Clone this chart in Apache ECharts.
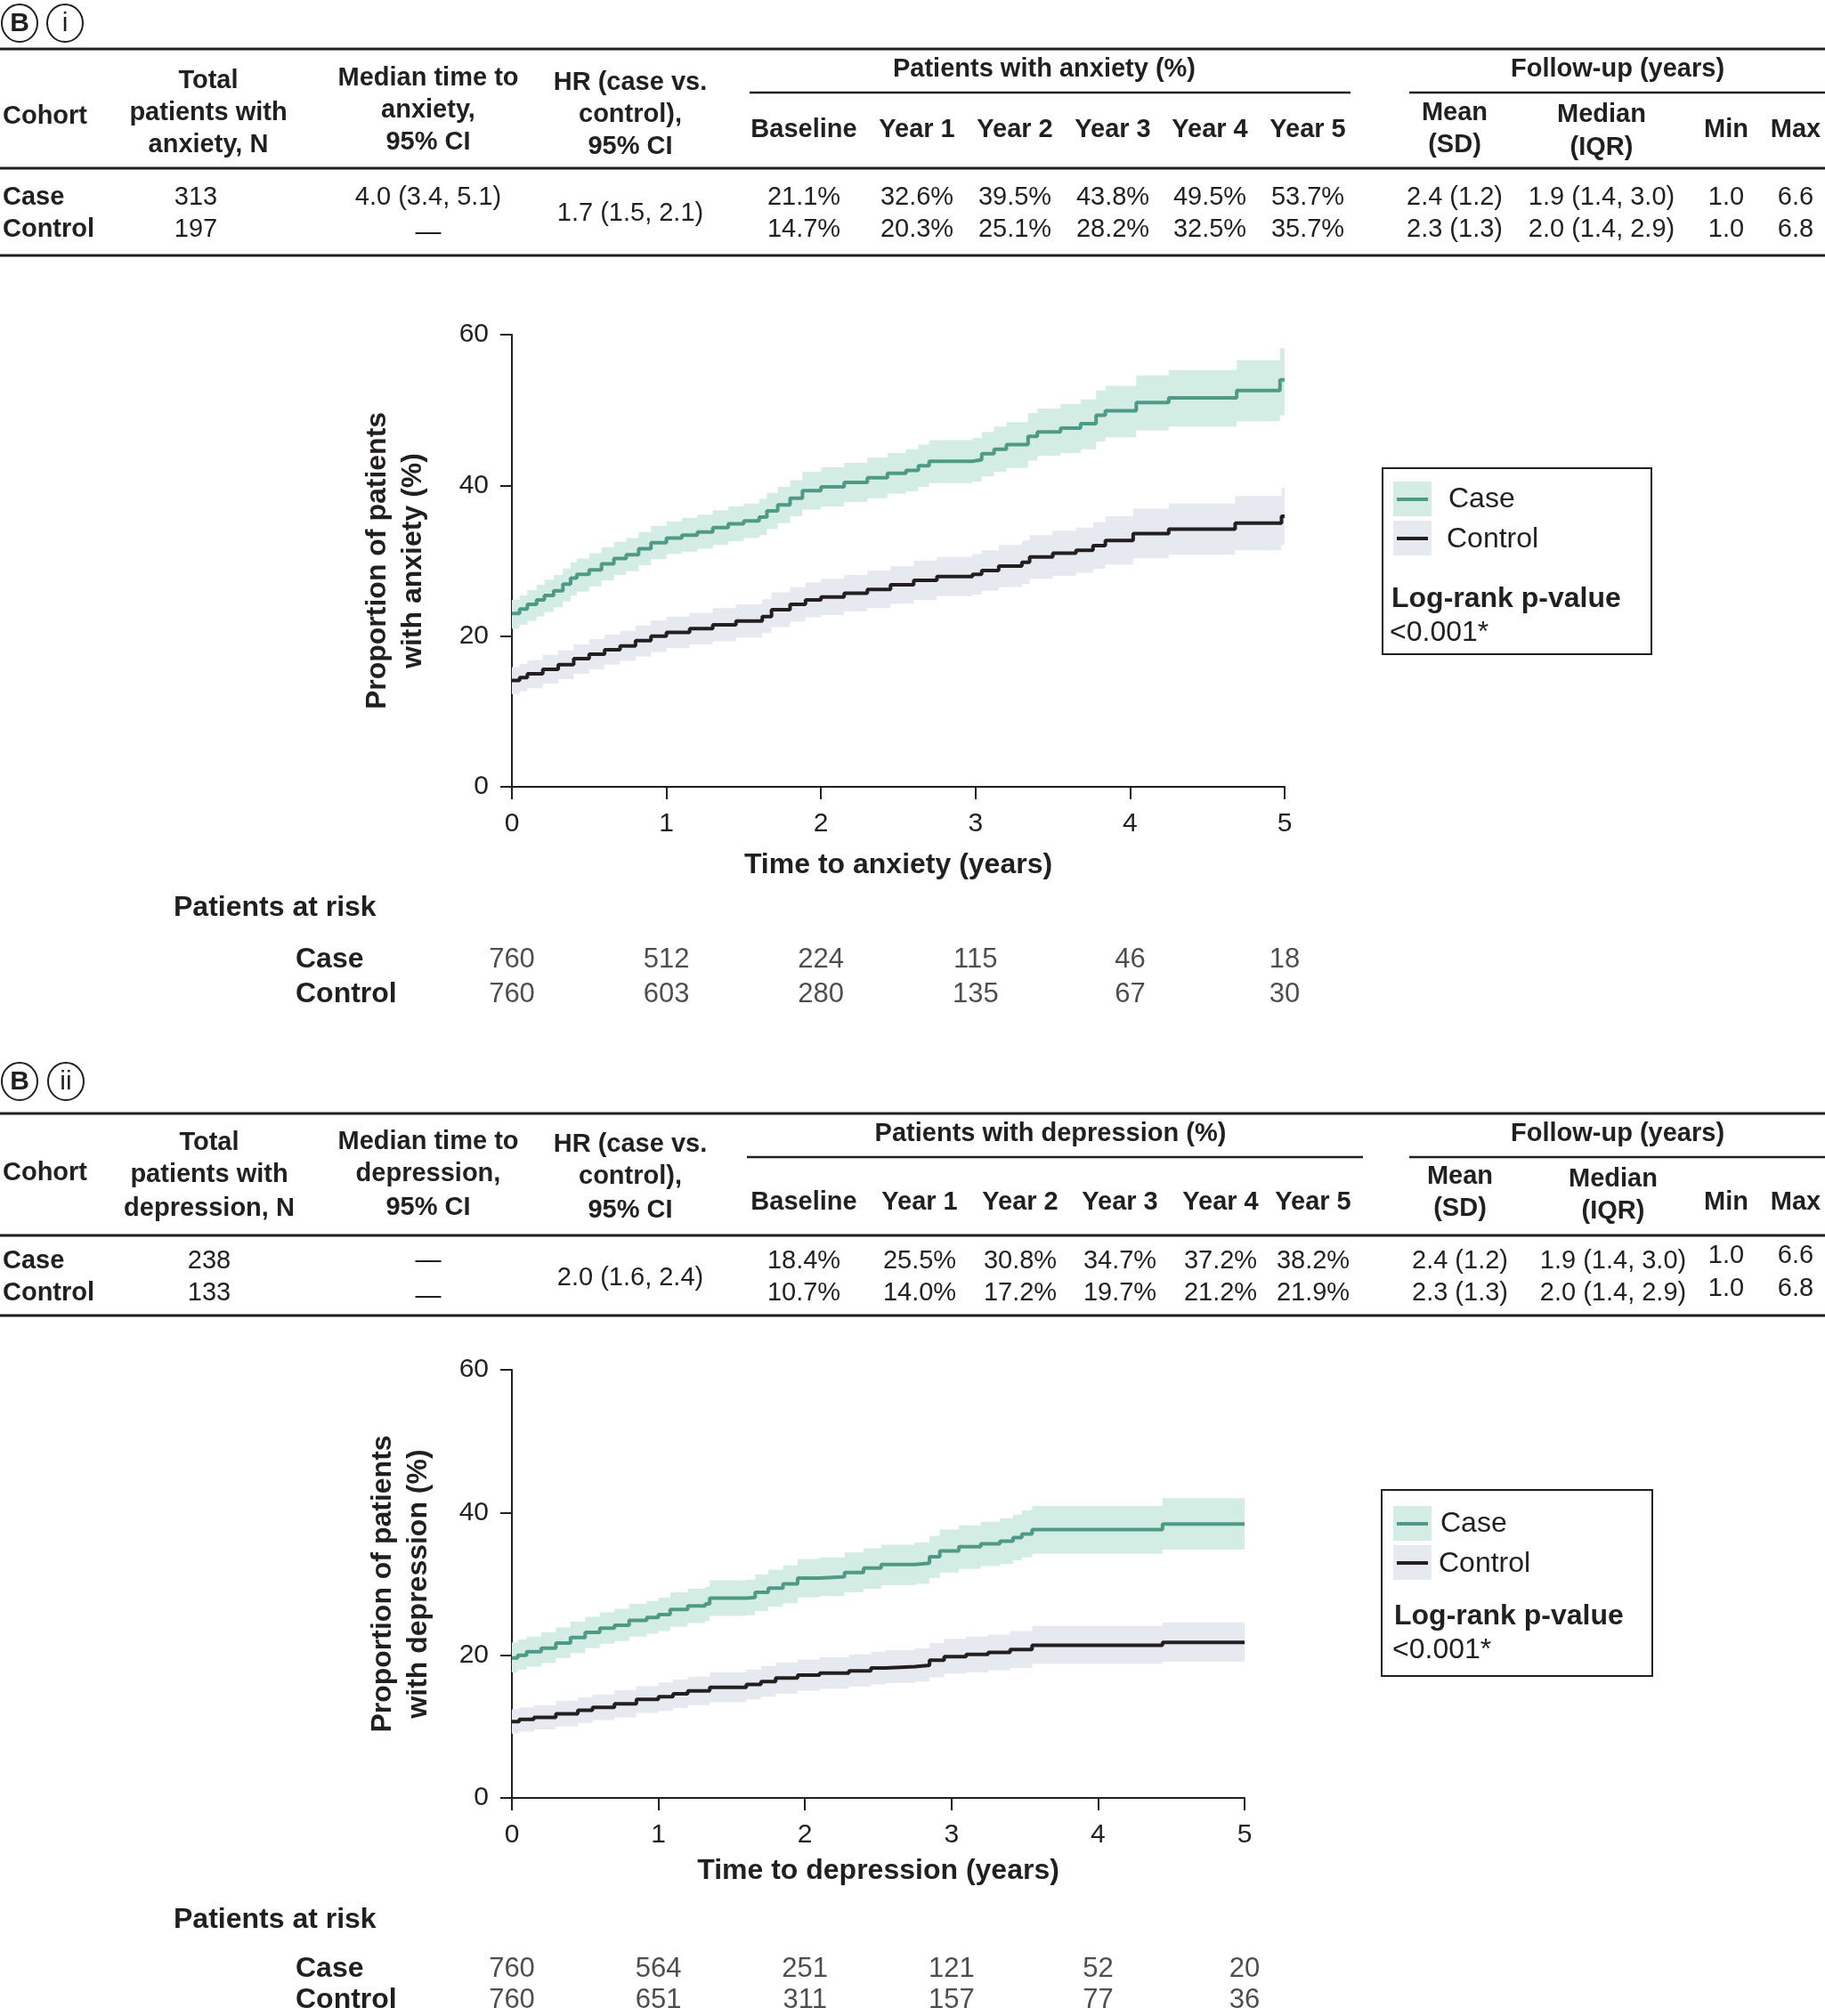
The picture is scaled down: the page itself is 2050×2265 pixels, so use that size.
<!DOCTYPE html>
<html>
<head>
<meta charset="utf-8">
<script src="https://cdn.jsdelivr.net/npm/echarts@6/dist/echarts.min.js"></script>
<style>
html, body { margin: 0; padding: 0; background: #fff; }
#main { width: 2050px; height: 2265px; }
</style>
</head>
<body>
<div id="main"></div>
<script>
const FONT = '"Liberation Sans", Arial, Helvetica, sans-serif';
const INK = '#231f20';
const TEAL = '#4e9a86';
const TEAL_BAND = '#d3ede4';
const GREY_BAND = '#e7e9f1';

// ---- tables
const yearHeads = ['Baseline', 'Year 1', 'Year 2', 'Year 3', 'Year 4', 'Year 5'];
const anxCasePct = ['21.1%', '32.6%', '39.5%', '43.8%', '49.5%', '53.7%'];
const anxCtrlPct = ['14.7%', '20.3%', '25.1%', '28.2%', '32.5%', '35.7%'];
const anxN = ['313', '197'];
const anxMedian = ['4.0 (3.4, 5.1)', '—'];
const anxHR = '1.7 (1.5, 2.1)';
const depCasePct = ['18.4%', '25.5%', '30.8%', '34.7%', '37.2%', '38.2%'];
const depCtrlPct = ['10.7%', '14.0%', '17.2%', '19.7%', '21.2%', '21.9%'];
const depN = ['238', '133'];
const depMedian = ['—', '—'];
const depHR = '2.0 (1.6, 2.4)';
const followCase = ['2.4 (1.2)', '1.9 (1.4, 3.0)', '1.0', '6.6'];
const followCtrl = ['2.3 (1.3)', '2.0 (1.4, 2.9)', '1.0', '6.8'];

// ---- curves: time (years), estimate, lower CI, upper CI (%)
const anxCaseT  = [0, 0.05, 0.10, 0.16, 0.21, 0.27, 0.33, 0.38, 0.42, 0.50, 0.58, 0.66, 0.74, 0.82, 0.90, 1.00, 1.10, 1.20, 1.30, 1.40, 1.50, 1.60, 1.65, 1.72, 1.80, 1.88, 2.00, 2.15, 2.30, 2.43, 2.55, 2.63, 2.70, 2.98, 3.04, 3.12, 3.20, 3.34, 3.40, 3.55, 3.68, 3.78, 3.84, 4.04, 4.25, 4.69, 4.97, 5.00];
const anxCaseV  = [23.0, 23.6, 24.2, 24.8, 25.4, 26.0, 26.9, 27.7, 28.2, 28.8, 29.6, 30.3, 30.8, 31.6, 32.4, 33.0, 33.4, 33.8, 34.4, 34.9, 35.3, 35.8, 36.6, 37.4, 38.3, 39.3, 39.8, 40.4, 41.0, 41.6, 42.0, 42.6, 43.2, 43.4, 44.2, 44.8, 45.4, 46.5, 47.1, 47.6, 48.2, 49.3, 49.9, 51.0, 51.6, 52.6, 54.0, 54.0];
const anxCaseLo = [21.0, 21.5, 22.0, 22.6, 23.2, 23.8, 24.6, 25.4, 25.9, 26.6, 27.4, 28.1, 28.6, 29.4, 30.2, 30.9, 31.2, 31.6, 32.1, 32.6, 33.0, 33.4, 34.2, 35.0, 35.9, 36.8, 37.2, 37.8, 38.3, 38.9, 39.2, 39.8, 40.3, 40.5, 41.2, 41.8, 42.3, 43.3, 43.9, 44.3, 44.8, 45.8, 46.4, 47.3, 47.8, 48.5, 49.3, 49.3];
const anxCaseHi = [24.8, 25.4, 26.1, 26.8, 27.5, 28.1, 29.0, 29.8, 30.3, 31.0, 31.8, 32.5, 33.0, 33.8, 34.6, 35.2, 35.7, 36.1, 36.7, 37.2, 37.6, 38.2, 39.0, 39.8, 40.7, 41.8, 42.4, 43.0, 43.7, 44.3, 44.8, 45.4, 46.0, 46.3, 47.1, 47.8, 48.4, 49.6, 50.2, 50.8, 51.4, 52.6, 53.2, 54.6, 55.3, 56.6, 58.2, 58.2];

const anxCtrlT  = [0, 0.05, 0.10, 0.20, 0.30, 0.40, 0.50, 0.60, 0.70, 0.80, 0.90, 1.00, 1.15, 1.30, 1.45, 1.62, 1.68, 1.80, 1.90, 2.00, 2.15, 2.30, 2.45, 2.60, 2.75, 2.98, 3.04, 3.15, 3.30, 3.35, 3.50, 3.65, 3.76, 3.84, 4.02, 4.25, 4.68, 4.98, 5.00];
const anxCtrlV  = [14.1, 14.5, 15.0, 15.6, 16.2, 17.0, 17.6, 18.2, 18.7, 19.4, 20.0, 20.5, 21.0, 21.5, 22.0, 22.6, 23.5, 24.2, 24.8, 25.2, 25.7, 26.2, 26.8, 27.4, 27.9, 28.2, 28.7, 29.3, 29.8, 30.5, 31.0, 31.4, 32.0, 32.7, 33.6, 34.2, 35.0, 35.9, 35.9];
const anxCtrlLo = [12.3, 12.7, 13.1, 13.7, 14.3, 15.0, 15.6, 16.2, 16.7, 17.3, 17.9, 18.4, 18.9, 19.3, 19.8, 20.4, 21.2, 21.9, 22.5, 22.8, 23.3, 23.7, 24.3, 24.8, 25.3, 25.5, 26.0, 26.5, 26.9, 27.6, 28.0, 28.4, 28.9, 29.5, 30.3, 30.8, 31.4, 32.1, 32.1];
const anxCtrlHi = [15.9, 16.3, 16.8, 17.5, 18.1, 18.9, 19.6, 20.2, 20.7, 21.4, 22.1, 22.6, 23.1, 23.7, 24.2, 24.9, 25.8, 26.5, 27.1, 27.6, 28.1, 28.7, 29.3, 30.0, 30.5, 30.9, 31.4, 32.1, 32.7, 33.4, 34.0, 34.4, 35.1, 35.9, 36.9, 37.6, 38.6, 39.7, 39.7];

const depCaseT  = [0, 0.04, 0.10, 0.20, 0.30, 0.40, 0.50, 0.60, 0.70, 0.80, 0.92, 1.00, 1.08, 1.20, 1.32, 1.35, 1.60, 1.66, 1.75, 1.85, 1.95, 2.10, 2.27, 2.40, 2.52, 2.75, 2.85, 2.92, 3.05, 3.20, 3.33, 3.42, 3.48, 3.55, 4.44, 5.00];
const depCaseV  = [19.6, 20.0, 20.5, 21.0, 21.7, 22.5, 23.2, 23.8, 24.2, 24.9, 25.3, 25.7, 26.4, 26.9, 27.2, 28.0, 28.1, 28.8, 29.4, 30.0, 30.8, 31.0, 31.6, 32.2, 32.7, 32.9, 33.8, 34.6, 35.2, 35.6, 36.0, 36.5, 37.0, 37.6, 38.4, 38.4];
const depCaseLo = [17.6, 18.0, 18.4, 18.9, 19.6, 20.3, 21.0, 21.6, 22.0, 22.6, 23.0, 23.4, 24.0, 24.5, 24.8, 25.5, 25.6, 26.2, 26.8, 27.3, 28.1, 28.3, 28.8, 29.3, 29.8, 30.0, 30.8, 31.6, 32.1, 32.5, 32.8, 33.3, 33.7, 34.2, 34.8, 34.8];
const depCaseHi = [21.8, 22.2, 22.6, 23.2, 23.9, 24.7, 25.4, 26.0, 26.5, 27.2, 27.6, 28.1, 28.8, 29.3, 29.6, 30.5, 30.6, 31.3, 32.0, 32.6, 33.5, 33.7, 34.4, 35.0, 35.5, 35.8, 36.7, 37.6, 38.2, 38.7, 39.2, 39.7, 40.3, 40.9, 42.0, 42.0];

const depCtrlT  = [0, 0.05, 0.15, 0.30, 0.45, 0.55, 0.70, 0.85, 1.00, 1.10, 1.20, 1.35, 1.60, 1.70, 1.80, 1.95, 2.10, 2.30, 2.45, 2.55, 2.75, 2.85, 2.95, 3.10, 3.25, 3.40, 3.55, 4.44, 5.00];
const depCtrlV  = [10.7, 11.0, 11.3, 11.8, 12.3, 12.7, 13.2, 13.8, 14.2, 14.6, 15.0, 15.5, 15.9, 16.3, 16.8, 17.2, 17.5, 17.8, 18.2, 18.4, 18.6, 19.3, 19.8, 20.1, 20.4, 20.8, 21.4, 21.8, 21.8];
const depCtrlLo = [9.0, 9.3, 9.6, 10.0, 10.5, 10.9, 11.3, 11.9, 12.2, 12.6, 13.0, 13.4, 13.8, 14.2, 14.6, 15.0, 15.3, 15.6, 15.9, 16.1, 16.3, 16.9, 17.4, 17.6, 17.9, 18.2, 18.8, 19.1, 19.1];
const depCtrlHi = [12.4, 12.7, 13.0, 13.6, 14.1, 14.5, 15.1, 15.7, 16.2, 16.6, 17.0, 17.6, 18.0, 18.5, 19.0, 19.4, 19.7, 20.1, 20.5, 20.7, 21.0, 21.7, 22.3, 22.6, 22.9, 23.4, 24.1, 24.6, 24.6];

// ---- patients at risk
const riskTimes = [0, 1, 2, 3, 4, 5];
const riskGroups = ['Case', 'Control'];
const anxRiskCase = [760, 512, 224, 115, 46, 18];
const anxRiskCtrl = [760, 603, 280, 135, 67, 30];
const depRiskCase = [760, 564, 251, 121, 52, 20];
const depRiskCtrl = [760, 651, 311, 157, 77, 36];

const chart = echarts.init(document.getElementById('main'));

// graphic helpers
const g = [];
function txt(x, y, s, size, bold, align) {
    g.push({
        type: 'text', x: x, y: y, silent: true,
        style: {
            text: s, fill: INK, fontSize: size, fontFamily: FONT,
            fontWeight: bold ? 'bold' : 'normal',
            align: align || 'center', verticalAlign: 'middle'
        }
    });
}
function rule(x1, y1, x2, y2, w) {
    g.push({ type: 'line', silent: true, shape: { x1: x1, y1: y1, x2: x2, y2: y2 }, style: { stroke: INK, lineWidth: w } });
}
function circ(cx, cy, s, bold) {
    g.push({ type: 'ellipse', silent: true, shape: { cx: cx, cy: cy, rx: 20, ry: 21 }, style: { fill: '#fff', stroke: INK, lineWidth: 2 } });
    txt(cx, cy + 1, s, 30, bold);
}

function table(p) {
    circ(22, p.circY, 'B', true);
    circ(p.tagX, p.circY, p.tag, false);
    rule(0, p.top, 2050, p.top, 3);
    txt(p.grpMid, p.grpY, p.grpTitle, 29, true);
    rule(p.grpL[0], p.grpLine, p.grpL[1], p.grpLine, 2.5);
    txt(1817, p.grpY, 'Follow-up (years)', 29, true);
    rule(1583, p.grpLine, 2050, p.grpLine, 2.5);
    txt(3, p.hCohort, 'Cohort', 29, true, 'left');
    ['Total', 'patients with', p.word + ', N'].forEach((s, i) => txt(p.totX, p.h3[i], s, 29, true));
    ['Median time to', p.word + ',', '95% CI'].forEach((s, i) => txt(481, p.hMed[i], s, 29, true));
    ['HR (case vs.', 'control),', '95% CI'].forEach((s, i) => txt(708, p.h3[i] + 2, s, 29, true));
    yearHeads.forEach((s, i) => txt(p.yearX[i], p.hYear, s, 29, true));
    ['Mean', '(SD)'].forEach((s, i) => txt(p.meanX, p.hMean[i], s, 29, true));
    ['Median', '(IQR)'].forEach((s, i) => txt(p.iqrX, p.hIqr[i], s, 29, true));
    txt(1939, p.hYear, 'Min', 29, true);
    txt(2017, p.hYear, 'Max', 29, true);
    rule(0, p.mid, 2050, p.mid, 3);
    txt(3, p.rowC, 'Case', 29, true, 'left');
    txt(3, p.rowK, 'Control', 29, true, 'left');
    txt(p.nX, p.rowC, p.n[0], 29);
    txt(p.nX, p.rowK, p.n[1], 29);
    txt(481, p.rowC, p.median[0], 29);
    txt(481, p.rowK + 4, p.median[1], 29);
    txt(708, p.hrY, p.hr, 29);
    p.casePct.forEach((s, i) => txt(p.yearX[i], p.rowC, s, 29));
    p.ctrlPct.forEach((s, i) => txt(p.yearX[i], p.rowK, s, 29));
    const fx = [p.meanX, p.iqrX, 1939, 2017];
    followCase.forEach((s, i) => txt(fx[i], i > 1 ? p.mmC : p.rowC, s, 29));
    followCtrl.forEach((s, i) => txt(fx[i], i > 1 ? p.mmK : p.rowK, s, 29));
    rule(0, p.bot, 2050, p.bot, 3);
}

table({
    circY: 26, tag: 'i', tagX: 73, top: 55, grpY: 78, grpLine: 104, grpL: [842, 1517], grpMid: 1173,
    grpTitle: 'Patients with anxiety (%)', word: 'anxiety',
    h3: [91, 127, 163], hMed: [88, 124, 160], hCohort: 131, hYear: 146, hMean: [127, 163], hIqr: [129, 166],
    mid: 189, rowC: 222, rowK: 258, hrY: 240, mmC: 222, mmK: 258, bot: 287,
    yearX: [903, 1030, 1140, 1250, 1359, 1469], meanX: 1634, iqrX: 1799, nX: 220, totX: 234,
    n: anxN, median: anxMedian, hr: anxHR, casePct: anxCasePct, ctrlPct: anxCtrlPct
});
table({
    circY: 1215, tag: 'ii', tagX: 74, top: 1251, grpY: 1274, grpLine: 1300, grpL: [839, 1531], grpMid: 1180,
    grpTitle: 'Patients with depression (%)', word: 'depression',
    h3: [1284, 1320, 1358], hMed: [1283, 1319, 1357], hCohort: 1318, hYear: 1351, hMean: [1322, 1358], hIqr: [1325, 1361],
    mid: 1388, rowC: 1417, rowK: 1453, hrY: 1436, mmC: 1411, mmK: 1448, bot: 1478,
    yearX: [903, 1033, 1146, 1258, 1371, 1475], meanX: 1640, iqrX: 1812, nX: 235, totX: 235,
    n: depN, median: depMedian, hr: depHR, casePct: depCasePct, ctrlPct: depCtrlPct
});

function legendBox(b) {
    g.push({ type: 'rect', silent: true, shape: { x: b.x0, y: b.y0, width: b.x1 - b.x0, height: b.y1 - b.y0 }, style: { fill: 'none', stroke: INK, lineWidth: 2 } });
    [[b.sw1, TEAL_BAND, TEAL], [b.sw2, GREY_BAND, INK]].forEach(a => {
        g.push({ type: 'rect', silent: true, shape: { x: 1565, y: a[0], width: 43, height: 39 }, style: { fill: a[1] } });
        g.push({ type: 'line', silent: true, shape: { x1: 1569, y1: a[0] + 20, x2: 1604, y2: a[0] + 20 }, style: { stroke: a[2], lineWidth: 4 } });
    });
    txt(b.tx, b.sw1 + 20, 'Case', 32, false, 'left');
    txt(b.tx - 2, b.sw2 + 21, 'Control', 32, false, 'left');
    txt(b.lx, b.lrY, 'Log-rank p-value', 32, true, 'left');
    txt(b.lx - 2, b.pY, '<0.001*', 32, false, 'left');
}
legendBox({ x0: 1553, y0: 526, x1: 1855, y1: 735, sw1: 541, sw2: 585, tx: 1627, lx: 1563, lrY: 673, pY: 711 });
legendBox({ x0: 1552, y0: 1674, x1: 1856, y1: 1883, sw1: 1692, sw2: 1736, tx: 1618, lx: 1566, lrY: 1816, pY: 1854 });

txt(195, 1020, 'Patients at risk', 32, true, 'left');
txt(195, 2157, 'Patients at risk', 32, true, 'left');

// confidence band: one stepped polygon through the axis scales
function band(grid, t, lo, hi, color) {
    return {
        type: 'custom', xAxisIndex: grid, yAxisIndex: grid, silent: true, z: 1,
        data: t.map((x, i) => [x, lo[i], hi[i]]),
        encode: { x: 0, y: [1, 2] },
        renderItem: function (params, api) {
            if (params.dataIndex !== 0) return null;
            const top = [], bottom = [];
            for (let i = 0; i < t.length; i++) {
                const next = i < t.length - 1 ? t[i + 1] : t[i];
                top.push(api.coord([t[i], hi[i]]), api.coord([next, hi[i]]));
                bottom.push(api.coord([t[i], lo[i]]), api.coord([next, lo[i]]));
            }
            return {
                type: 'polygon',
                shape: { points: top.concat(bottom.reverse()) },
                style: { fill: color }
            };
        }
    };
}
function km(grid, t, v, color) {
    return {
        type: 'line', xAxisIndex: grid, yAxisIndex: grid, step: 'end', z: 5,
        data: t.map((x, i) => [x, v[i]]), symbol: 'none', silent: true,
        lineStyle: { color: color, width: 4 }
    };
}
function risk(grid, caseN, ctrlN) {
    const lab = { show: true, position: 'inside', color: INK, fontSize: 31, fontFamily: FONT, formatter: p => p.value[2] };
    return [caseN, ctrlN].map((arr, k) => ({
        type: 'scatter', xAxisIndex: grid, yAxisIndex: grid, symbolSize: 0, silent: true,
        data: riskTimes.map((x, i) => [x, riskGroups[k], arr[i]]), label: lab
    }));
}

const axLine = { lineStyle: { color: INK, width: 2 } };
function xAx(grid, title, gap) {
    return {
        type: 'value', gridIndex: grid, min: 0, max: 5, interval: 1,
        axisLine: axLine, axisTick: { length: 14, lineStyle: { color: INK, width: 2 } },
        axisLabel: { color: INK, fontSize: 30, fontFamily: FONT, margin: 27 },
        splitLine: { show: false },
        name: title, nameLocation: 'middle', nameGap: gap,
        nameTextStyle: { color: INK, fontSize: 32, fontWeight: 'bold', fontFamily: FONT }
    };
}
function yAx(grid, title, gap) {
    return {
        type: 'value', gridIndex: grid, min: 0, max: 60, interval: 20,
        axisLine: { show: true, lineStyle: { color: INK, width: 2 } },
        axisTick: { show: true, length: 13, lineStyle: { color: INK, width: 2 } },
        axisLabel: { color: INK, fontSize: 30, fontFamily: FONT, margin: 26 },
        splitLine: { show: false },
        name: title, nameLocation: 'middle', nameGap: gap,
        nameTextStyle: { color: INK, fontSize: 32, fontWeight: 'bold', fontFamily: FONT, lineHeight: 40 }
    };
}
function riskX(grid) {
    return { type: 'value', gridIndex: grid, min: 0, max: 5, show: false };
}
function riskY(grid) {
    return {
        type: 'category', gridIndex: grid, data: riskGroups, inverse: true,
        axisLine: { show: false }, axisTick: { show: false }, splitLine: { show: false },
        axisLabel: { interval: 0, color: INK, fontSize: 32, fontWeight: 'bold', fontFamily: FONT, align: 'left', margin: 243 }
    };
}

chart.setOption({
    animation: false,
    backgroundColor: '#fff',
    grid: [
        { left: 575, top: 376, width: 868, height: 508 },
        { left: 575, top: 1539, width: 823, height: 481 },
        { left: 575, top: 1059, width: 868, height: 78 },
        { left: 575, top: 2195, width: 823, height: 80 }
    ],
    xAxis: [
        xAx(0, 'Time to anxiety (years)', 72),
        xAx(1, 'Time to depression (years)', 66),
        riskX(2), riskX(3)
    ],
    yAxis: [
        yAx(0, 'Proportion of patients\nwith anxiety (%)', 91),
        yAx(1, 'Proportion of patients\nwith depression (%)', 85),
        riskY(2), riskY(3)
    ],
    series: [
        band(0, anxCtrlT, anxCtrlLo, anxCtrlHi, GREY_BAND),
        band(0, anxCaseT, anxCaseLo, anxCaseHi, TEAL_BAND),
        km(0, anxCtrlT, anxCtrlV, INK),
        km(0, anxCaseT, anxCaseV, TEAL),
        band(1, depCtrlT, depCtrlLo, depCtrlHi, GREY_BAND),
        band(1, depCaseT, depCaseLo, depCaseHi, TEAL_BAND),
        km(1, depCtrlT, depCtrlV, INK),
        km(1, depCaseT, depCaseV, TEAL)
    ].concat(
        risk(2, anxRiskCase, anxRiskCtrl),
        risk(3, depRiskCase, depRiskCtrl)
    ),
    graphic: g
});
</script>
</body>
</html>
